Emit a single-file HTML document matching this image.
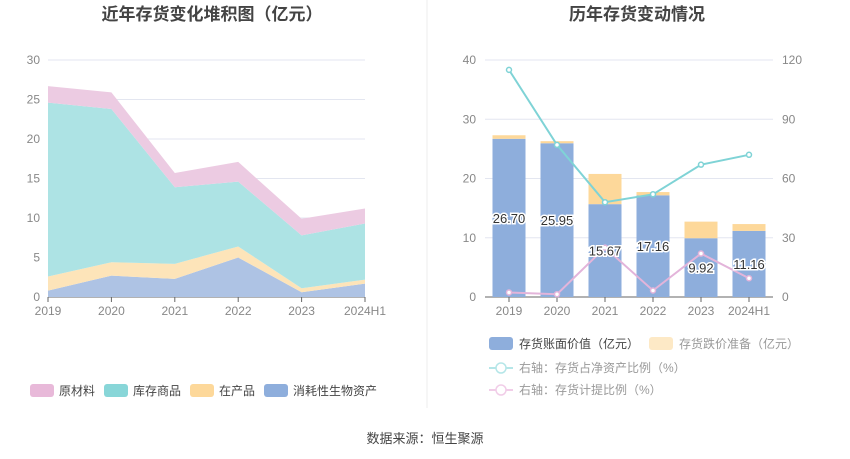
<!DOCTYPE html>
<html><head><meta charset="utf-8"><style>
body{margin:0;background:#fff;font-family:"Liberation Sans","Noto Sans CJK SC",sans-serif;}
svg{display:block}
</style></head><body>
<svg id="c" width="850" height="459" xmlns="http://www.w3.org/2000/svg" font-family="Liberation Sans, Noto Sans CJK SC, sans-serif">
<text x="212" y="20" text-anchor="middle" font-size="17" font-weight="bold" fill="#444">近年存货变化堆积图（亿元）</text>
<text x="637" y="20" text-anchor="middle" font-size="17" font-weight="bold" fill="#444">历年存货变动情况</text>
<line x1="427" y1="0" x2="427" y2="408" stroke="#eee"/>
<text x="425" y="443" text-anchor="middle" font-size="13" fill="#444">数据来源：恒生聚源</text>
<g id="L"></g><g id="R"></g>
</svg>
<script>
const years=['2019','2020','2021','2022','2023','2024H1'];
const consumables=[0.8,2.7,2.3,5.0,0.6,1.7];
const wip=[1.8,1.7,1.9,1.4,0.5,0.5];
const goods=[22.0,19.4,9.7,8.2,6.7,7.1];
const raw=[2.1,2.1,1.8,2.5,2.1,1.9];
const leftTicks=[0,5,10,15,20,25,30];
const bookValue=[26.70,25.95,15.67,17.16,9.92,11.16];
const provision=[0.6,0.35,5.1,0.55,2.8,1.15];
const netAssetRatio=[115,77,48,52,67,72];
const provisionRatio=[2.3,1.4,25,3.3,22,9.5];
const rightTicksL=[0,10,20,30,40];
const rightTicksR=[0,30,60,90,120];

const NS='http://www.w3.org/2000/svg';
function mk(p,t,a,txt){const e=document.createElementNS(NS,t);for(const k in a)e.setAttribute(k,a[k]);if(txt!=null)e.textContent=txt;p.appendChild(e);return e;}
// LEFT
const L=document.getElementById('L');
const lx=i=>48+i*(365-48)/5, ly=v=>297-v*(297-60)/30;
leftTicks.forEach(t=>{
 const g=mk(L,'line',{x1:48,x2:365,y1:ly(t),y2:ly(t),stroke:t?'#e3e6f0':'#666'});
 
 
 const tx=mk(L,'text',{x:40,y:ly(t)+4,'text-anchor':'end','font-size':12,fill:'#888'},t);
 
 
});
years.forEach((y,i)=>{
 const t=mk(L,'text',{x:lx(i),y:315,'text-anchor':'middle','font-size':12,fill:'#888'},y);
 
 
 mk(L,'line',{x1:lx(i),x2:lx(i),y1:297,y2:302,stroke:'#666'});
});
const series=[[consumables,'#aec3e4','consumables-area'],[wip,'#fde4b9','wip-area'],[goods,'#ade3e4','goods-area'],[raw,'#eccbe2','raw-material-area']];
let base=years.map(()=>0);
series.forEach(([d,c,n])=>{
 const top=base.map((b,i)=>b+d[i]);
 let pts=top.map((v,i)=>lx(i)+','+ly(v)).concat(base.map((v,i)=>lx(i)+','+ly(v)).reverse());
 const p=mk(L,'polygon',{points:pts.join(' '),fill:c});
 
 
 base=top;
});
const legL=[['原材料','#e8b9d9'],['库存商品','#88d6d8'],['在产品','#fdd89a'],['消耗性生物资产','#8eaedc']];
let lxp=30;
legL.forEach(([t,c])=>{
 const g=mk(L,'g',{});
 
 
 mk(g,'rect',{x:lxp,y:384,width:24,height:13,rx:3,fill:c});
 mk(g,'text',{x:lxp+29,y:395,'font-size':12,fill:'#444'},t);
 lxp+=29+t.length*12+9;
});
// RIGHT
const R=document.getElementById('R');
const rx=i=>509+i*48, ryL=v=>297-v*(297-60)/40, ryR=v=>297-v*(297-60)/120;
rightTicksL.forEach((t,k)=>{
 const g=mk(R,'line',{x1:485,x2:773,y1:ryL(t),y2:ryL(t),stroke:t?'#e3e6f0':'#666'});
 
 
 const a=mk(R,'text',{x:476,y:ryL(t)+4,'text-anchor':'end','font-size':12,fill:'#888'},t);
 
 
 const b=mk(R,'text',{x:782,y:ryR(rightTicksR[k])+4,'font-size':12,fill:'#888'},rightTicksR[k]);
 
 
});
years.forEach((y,i)=>{
 const t=mk(R,'text',{x:rx(i),y:315,'text-anchor':'middle','font-size':12,fill:'#888'},y);
 
 
 mk(R,'line',{x1:rx(i),x2:rx(i),y1:297,y2:302,stroke:'#666'});
 const b=mk(R,'rect',{x:rx(i)-16.5,y:ryL(bookValue[i]),width:33,height:297-ryL(bookValue[i]),fill:'#8eaedc'});
 
 
 const p=mk(R,'rect',{x:rx(i)-16.5,y:ryL(bookValue[i]+provision[i]),width:33,height:ryL(bookValue[i])-ryL(bookValue[i]+provision[i]),fill:'#fdd89a'});
 
 
});
function line(d,c,n){
 const pl=mk(R,'polyline',{points:d.map((v,i)=>rx(i)+','+ryR(v)).join(' '),fill:'none',stroke:c,'stroke-width':2});
 
 
 d.forEach((v,i)=>{const c2=mk(R,'circle',{cx:rx(i),cy:ryR(v),r:2.5,fill:'#fff',stroke:c,'stroke-width':1.5});
 
 });
}
line(netAssetRatio,'#7fd3d6','net-asset-ratio-line');
line(provisionRatio,'#e3b4da','provision-ratio-line');
bookValue.forEach((v,i)=>{
 const t=mk(R,'text',{x:rx(i),y:ryL(v/2)+5,'text-anchor':'middle','font-size':13,fill:'#333',stroke:'#fff','stroke-width':3,'paint-order':'stroke'},v.toFixed(2));
 
 
});
// right legends
function leg(x,y,sw,t,col,tc){
 const g=mk(R,'g',{});
 
 
 if(sw==='rect')mk(g,'rect',{x:x,y:y-7,width:24,height:13,rx:3,fill:col});
 else{mk(g,'line',{x1:x,x2:x+24,y1:y,y2:y,stroke:col,'stroke-width':2});mk(g,'circle',{cx:x+12,cy:y,r:5,fill:'#fff',stroke:col,'stroke-width':1.5});}
 mk(g,'text',{x:x+30,y:y+4,'font-size':12,fill:tc},t);
}
leg(489,344,'rect','存货账面价值（亿元）','#8eaedc','#444');
leg(649,344,'rect','存货跌价准备（亿元）','#fde9c6','#999');
leg(489,368,'line','右轴：存货占净资产比例（%）','#b5e6e8','#999');
leg(489,390,'line','右轴：存货计提比例（%）','#f1cde8','#999');
</script>
</body></html>
